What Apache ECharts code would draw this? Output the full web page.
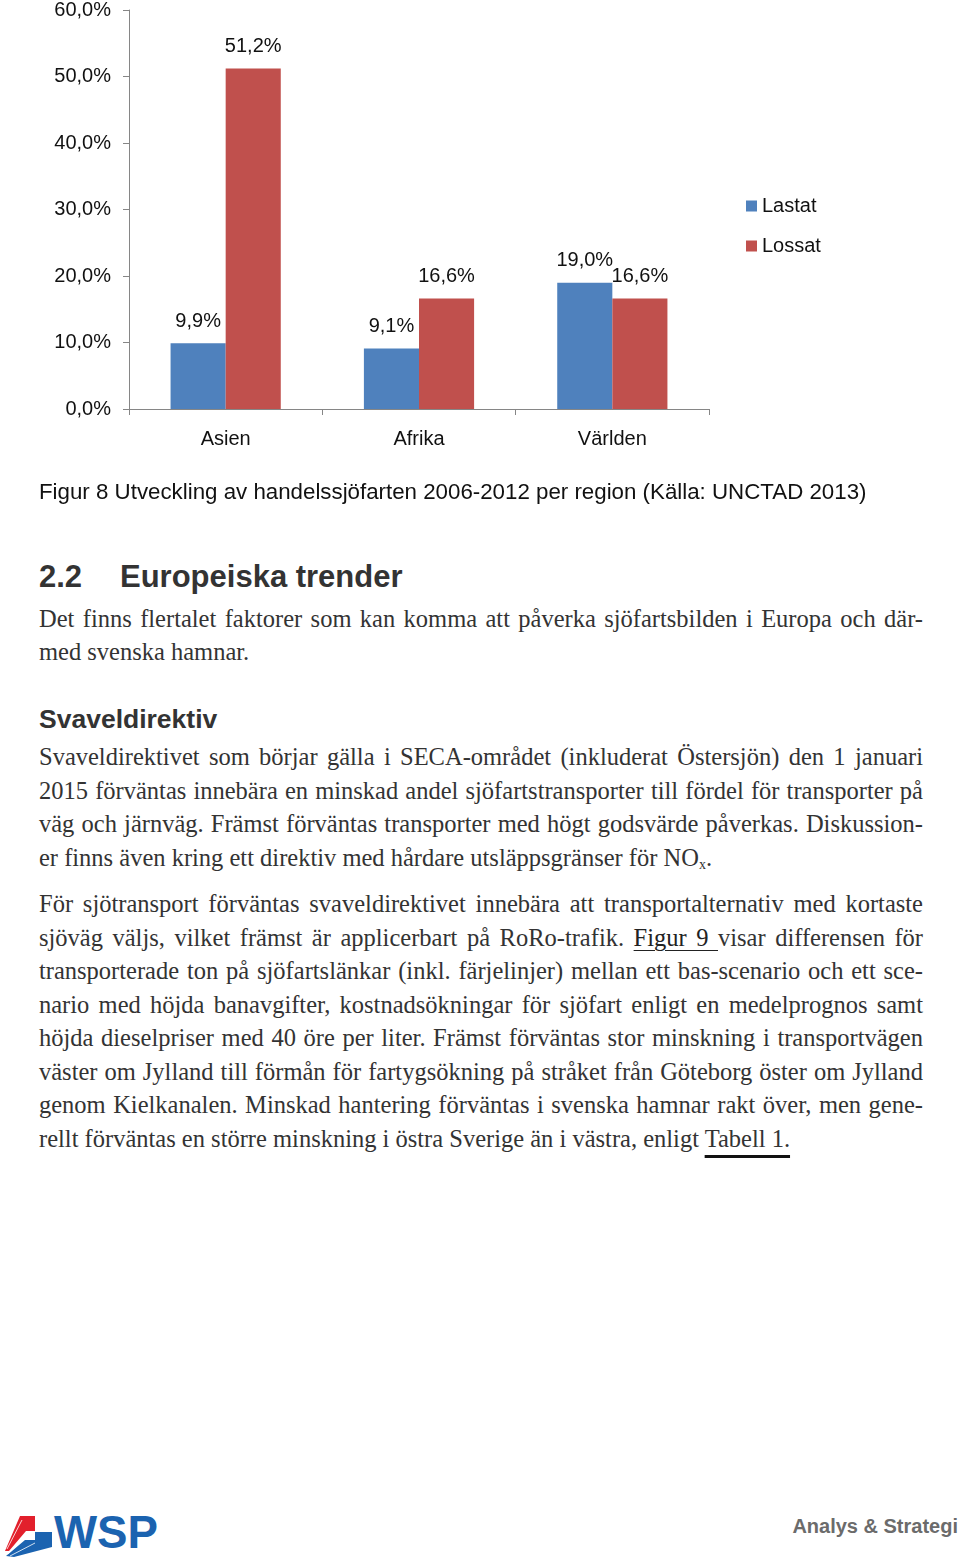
<!DOCTYPE html>
<html>
<head>
<meta charset="utf-8">
<script src="https://cdn.jsdelivr.net/npm/echarts@6/dist/echarts.min.js"></script>
<style>
  html, body { margin: 0; padding: 0; background: #fff; }
  body { width: 960px; height: 1568px; position: relative; overflow: hidden; }
  #chart { position: absolute; left: 0; top: 0; width: 960px; height: 480px; }
  .ln { position: absolute; left: 39px; width: 884px; height: 34px; line-height: 34px;
        font-family: 'Liberation Serif', 'Times New Roman', serif; font-size: 24.5px; color: #333;
        white-space: nowrap; }
  .j { text-align: justify; text-align-last: justify; }
  .sans { font-family: 'Liberation Sans', Arial, sans-serif; }
  .u { text-decoration: underline; text-decoration-thickness: 1px; text-underline-offset: 4px; color: #222; }
  .ut { text-decoration: underline; text-decoration-thickness: 3px; text-underline-offset: 8px; text-decoration-color: #111; }
  sub { font-size: 14px; vertical-align: -3px; line-height: 0; }
</style>
</head>
<body>
<div id="chart"></div>

<div class="ln sans" style="top:475px; font-size:22.3px; color:#111;">Figur 8 Utveckling av handelssjöfarten 2006-2012 per region (Källa: UNCTAD 2013)</div>

<div class="ln sans" style="top:557px; height:40px; line-height:40px; font-size:31px; font-weight:bold; color:#333;">2.2<span style="position:absolute; left:81px;">Europeiska trender</span></div>

<div class="ln j" style="top:602px;">Det finns flertalet faktorer som kan komma att påverka sjöfartsbilden i Europa och där-</div>
<div class="ln" style="top:635px;">med svenska hamnar.</div>

<div class="ln sans" style="top:702px; font-size:26.5px; font-weight:bold; color:#333;">Svaveldirektiv</div>

<div class="ln j" style="top:740px;">Svaveldirektivet som börjar gälla i SECA-området (inkluderat Östersjön) den 1 januari</div>
<div class="ln j" style="top:774px;">2015 förväntas innebära en minskad andel sjöfartstransporter till fördel för transporter på</div>
<div class="ln j" style="top:807px;">väg och järnväg. Främst förväntas transporter med högt godsvärde påverkas. Diskussion-</div>
<div class="ln" style="top:841px;">er finns även kring ett direktiv med hårdare utsläppsgränser för NO<sub>x</sub>.</div>

<div class="ln j" style="top:887px;">För sjötransport förväntas svaveldirektivet innebära att transportalternativ med kortaste</div>
<div class="ln j" style="top:921px;">sjöväg väljs, vilket främst är applicerbart på RoRo-trafik. <span class="u">Figur 9 </span>visar differensen för</div>
<div class="ln j" style="top:954px;">transporterade ton på sjöfartslänkar (inkl. färjelinjer) mellan ett bas-scenario och ett sce-</div>
<div class="ln j" style="top:988px;">nario med höjda banavgifter, kostnadsökningar för sjöfart enligt en medelprognos samt</div>
<div class="ln j" style="top:1021px;">höjda dieselpriser med 40 öre per liter. Främst förväntas stor minskning i transportvägen</div>
<div class="ln j" style="top:1055px;">väster om Jylland till förmån för fartygsökning på stråket från Göteborg öster om Jylland</div>
<div class="ln j" style="top:1088px;">genom Kielkanalen. Minskad hantering förväntas i svenska hamnar rakt över, men gene-</div>
<div class="ln" style="top:1122px;">rellt förväntas en större minskning i östra Sverige än i västra, enligt <span class="ut">Tabell 1.</span></div>

<svg style="position:absolute; left:0; top:1500px;" width="170" height="68" viewBox="0 1500 170 68">
  <polygon points="20,1516 35,1516 35,1531 26,1531 9,1551 5,1551" fill="#e2202c"/>
  <polygon points="35,1532 52,1532 52,1547 14,1557 6,1556 25,1540 35,1540" fill="#1b63b0"/>
  <line x1="22" y1="1520" x2="7" y2="1549" stroke="#fff" stroke-width="0.8"/>
  <line x1="28" y1="1535" x2="8" y2="1554" stroke="#fff" stroke-width="0.8"/>
  <line x1="35" y1="1543" x2="10" y2="1556" stroke="#fff" stroke-width="0.8"/>
  <text x="54" y="1548" font-family="Liberation Sans, Arial, sans-serif" font-weight="bold" font-size="46" fill="#1b63b0" textLength="104" lengthAdjust="spacingAndGlyphs">WSP</text>
</svg>

<div style="position:absolute; right:2px; top:1513px; font-family:'Liberation Sans', Arial, sans-serif; font-weight:bold; font-size:20px; color:#6b6b6b; line-height:26px;">Analys &amp; Strategi</div>

<script>
const categories = ['Asien', 'Afrika', 'Världen'];
const lastat = [9.9, 9.1, 19.0];
const lossat = [51.2, 16.6, 16.6];
const seriesNames = ['Lastat', 'Lossat'];
const yMin = 0, yMax = 60, yStep = 10;

const fmt = v => v.toFixed(1).replace('.', ',') + '%';
const FONT = "'Liberation Sans', Arial, sans-serif";
const FS = 20;

const chart = echarts.init(document.getElementById('chart'), null, { renderer: 'canvas' });
chart.setOption({
  animation: false,
  backgroundColor: '#fff',
  grid: { left: 129, top: 9, width: 580, height: 400, containLabel: false },
  legend: {
    orient: 'vertical', left: 741, top: 191,
    itemWidth: 11, itemHeight: 11, itemGap: 20, icon: 'rect',
    textStyle: { fontSize: FS, color: '#111', fontFamily: FONT },
    data: seriesNames
  },
  xAxis: {
    type: 'category', data: categories,
    axisLine: { lineStyle: { color: '#868686', width: 1 } },
    axisTick: { show: true, length: 6, lineStyle: { color: '#868686' } },
    axisLabel: { fontSize: FS, color: '#111', margin: 20, fontFamily: FONT }
  },
  yAxis: {
    type: 'value', min: yMin, max: yMax, interval: yStep,
    axisLine: { show: true, lineStyle: { color: '#868686', width: 1 } },
    axisTick: { show: true, length: 6, lineStyle: { color: '#868686' } },
    splitLine: { show: false },
    axisLabel: { fontSize: FS, color: '#111', margin: 18, fontFamily: FONT, formatter: v => fmt(v) }
  },
  series: [
    {
      name: seriesNames[0], type: 'bar', data: lastat,
      barGap: '0%', barCategoryGap: '43%',
      itemStyle: { color: '#4f81bd' },
      label: { show: true, position: 'top', distance: 12, fontSize: FS, color: '#111', fontFamily: FONT,
               formatter: p => fmt(p.value) }
    },
    {
      name: seriesNames[1], type: 'bar', data: lossat,
      barGap: '0%', barCategoryGap: '43%',
      itemStyle: { color: '#c0504d' },
      label: { show: true, position: 'top', distance: 12, fontSize: FS, color: '#111', fontFamily: FONT,
               formatter: p => fmt(p.value) }
    }
  ]
});
</script>
</body>
</html>
